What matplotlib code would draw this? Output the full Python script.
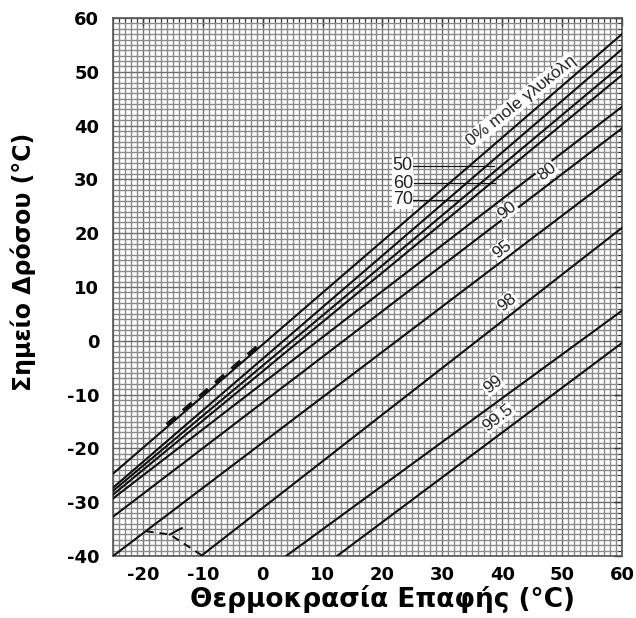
import numpy as np
import matplotlib
matplotlib.use("Agg")
import matplotlib.pyplot as plt
from matplotlib.ticker import MultipleLocator

plt.rcParams['font.family'] = ['Liberation Sans', 'DejaVu Sans']
plt.rcParams['axes.unicode_minus'] = False

# Glycol concentration (mole %) of each equilibrium line
glycol_pct = ['0', '50', '60', '70', '80', '90', '95', '98', '99', '99.5']

# Contact temperature (°C) at the two ends of each line
line_t_start = [-25, -25, -25, -25, -25, -25, -25, -10.3, 3.9, 12.4]
line_t_end = [60, 60, 60, 60, 60, 60, 60, 60, 60, 60]

# Dew point (°C) at the two ends of each line
line_dp_start = [-24.7, -27.3, -27.9, -28.6, -29.3, -32.7, -40.0, -40.0, -40.0, -40.0]
line_dp_end = [57.0, 54.2, 51.3, 49.4, 43.5, 39.5, 31.7, 21.0, 5.6, -0.4]

# Dashed ice-boundary traces
ice_top_t = [-16.0, -1.0]
ice_top_dp = [-15.6, -1.2]
ice_low_t = [-19.5, -15.5, -10.0]
ice_low_dp = [-35.4, -36.0, -40.0]
ice_branch_t = [-15.5, -13.5]
ice_branch_dp = [-36.0, -34.8]

x_ticks = [-20, -10, 0, 10, 20, 30, 40, 50, 60]
y_ticks = [-40, -30, -20, -10, 0, 10, 20, 30, 40, 50, 60]

fig = plt.figure(figsize=(6.36, 6.18), dpi=100)
ax = fig.add_axes([0.1777, 0.1003, 0.8003, 0.8706])
ax.set_xlim(-25, 60)
ax.set_ylim(-40, 60)

# Dense millimetre-style grid
ax.xaxis.set_minor_locator(MultipleLocator(1))
ax.yaxis.set_minor_locator(MultipleLocator(1))
ax.set_xticks(x_ticks)
ax.set_yticks(y_ticks)
ax.grid(which='minor', color='#8a8a8a', linewidth=1.0)
ax.grid(which='major', color='#6e6e6e', linewidth=1.0)
ax.set_axisbelow(True)

for t0, t1, d0, d1 in zip(line_t_start, line_t_end, line_dp_start, line_dp_end):
    ax.plot([t0, t1], [d0, d1], color='#111111', linewidth=1.5, zorder=3)

ax.plot(ice_top_t, ice_top_dp, color='#111111', linewidth=2.8,
        dashes=(3, 2.5), zorder=4)
ax.plot(ice_low_t, ice_low_dp, color='#111111', linewidth=1.4,
        dashes=(4, 3), zorder=4)
ax.plot(ice_branch_t, ice_branch_dp, color='#111111', linewidth=1.4, zorder=4)

box = dict(facecolor='white', edgecolor='none', pad=0.4)

ax.text(43.1, 44.6, '0% mole γλυκόλη', rotation=38.5, ha='center', va='center',
        fontsize=12.5, color='#222222', bbox=box, zorder=5)

# Horizontal call-outs for the 50 / 60 / 70 lines
callouts = [(1, 32.5, 38.6), (2, 29.3, 38.8), (3, 26.2, 33.0)]
for idx, yv, x_end in callouts:
    ax.plot([24.6, x_end], [yv, yv], color='#111111', linewidth=0.9, zorder=4)
    ax.text(23.4, yv, glycol_pct[idx], ha='center', va='center', fontsize=13,
            color='#222222', bbox=box, zorder=5)

inline = [(4, 47.5, 31.4), (5, 40.8, 24.3), (6, 39.9, 16.9), (7, 40.8, 7.2),
          (8, 38.4, -8.2), (9, 39.3, -14.3)]
for idx, xv, yv in inline:
    ax.text(xv, yv, glycol_pct[idx], rotation=38, ha='center', va='center',
            fontsize=12.5, color='#222222', bbox=box, zorder=5)

ax.tick_params(which='both', top=True, right=True, direction='in',
               labeltop=False, labelright=False, color='#333333')
ax.tick_params(which='major', length=6, width=1.0)
ax.tick_params(which='minor', length=3, width=0.7)
ax.tick_params(axis='x', which='both', bottom=False)
ax.tick_params(axis='y', which='both', left=False)
ax.tick_params(axis='x', which='major', pad=7)
ax.tick_params(axis='y', which='major', pad=10)
for lab in ax.get_xticklabels() + ax.get_yticklabels():
    lab.set_fontfamily('DejaVu Sans')
    lab.set_fontweight('bold')
    lab.set_fontsize(13)

for sp in ax.spines.values():
    sp.set_color('#555555')
    sp.set_linewidth(1.2)

ax.set_xlabel('Θερμοκρασία Επαφής (°C)', fontsize=19, fontweight='bold',
              family='DejaVu Sans')
ax.set_ylabel('Σημείο Δρόσου (°C)', fontsize=17, fontweight='bold',
              family='DejaVu Sans')
ax.xaxis.set_label_coords(0.53, -0.054)
ax.yaxis.set_label_coords(-0.152, 0.546)

fig.savefig('out.png', dpi=100, facecolor='white')
